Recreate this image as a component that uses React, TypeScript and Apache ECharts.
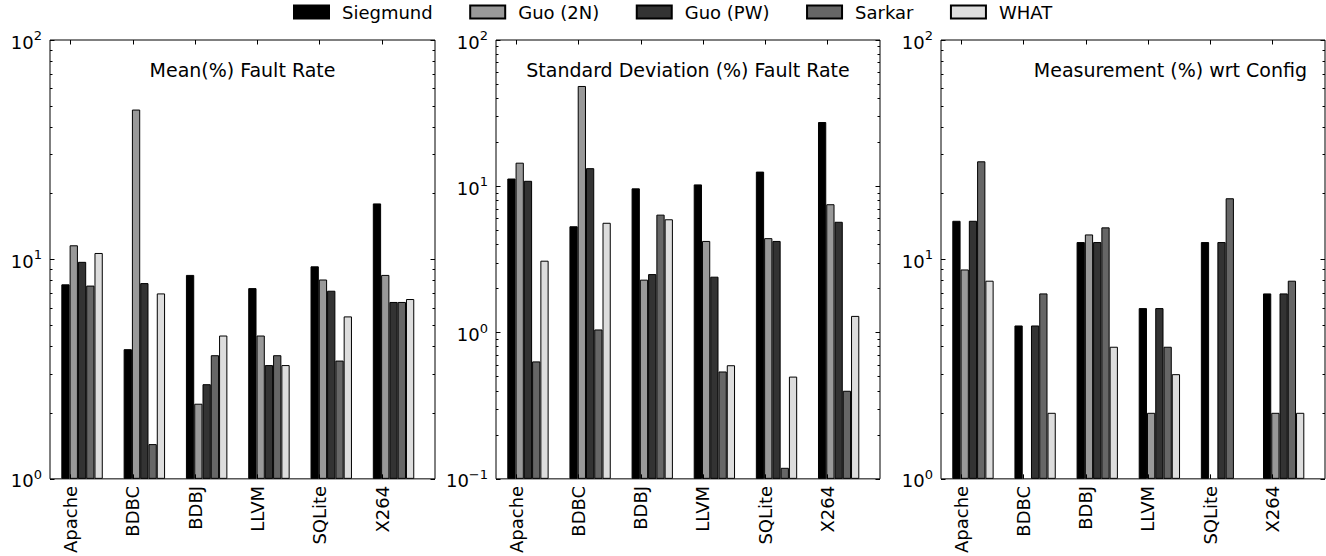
import React, { useEffect, useRef } from 'react';
import * as echarts from 'echarts';

const categories = ['Apache', 'BDBC', 'BDBJ', 'LLVM', 'SQLite', 'X264'];
const seriesNames = ['Siegmund', 'Guo (2N)', 'Guo (PW)', 'Sarkar', 'WHAT'];
const seriesColors = ['#000000', '#999999', '#333333', '#666666', '#dddddd'];

// Panel 1: Mean(%) Fault Rate
const meanSiegmund = [7.7, 3.9, 8.5, 7.4, 9.3, 18.0];
const meanGuo2N = [11.6, 48.2, 2.2, 4.5, 8.1, 8.5];
const meanGuoPW = [9.75, 7.8, 2.7, 3.3, 7.2, 6.4];
const meanSarkar = [7.6, 1.44, 3.66, 3.66, 3.46, 6.4];
const meanWHAT = [10.7, 7.0, 4.5, 3.3, 5.5, 6.6];

// Panel 2: Standard Deviation (%) Fault Rate
const sdSiegmund = [11.3, 5.33, 9.68, 10.3, 12.6, 27.5];
const sdGuo2N = [14.5, 48.5, 2.3, 4.23, 4.42, 7.54];
const sdGuoPW = [10.9, 13.3, 2.51, 2.41, 4.23, 5.72];
const sdSarkar = [0.635, 1.05, 6.4, 0.542, 0.119, 0.4];
const sdWHAT = [3.1, 5.63, 5.95, 0.598, 0.5, 1.3];

// Panel 3: Measurement (%) wrt Config
const measSiegmund = [15, 5, 12, 6, 12, 7];
const measGuo2N = [9, null, 13, 2, null, 2];
const measGuoPW = [15, 5, 12, 6, 12, 7];
const measSarkar = [28, 7, 14, 4, 19, 8];
const measWHAT = [8, 2, 4, 3, null, 2];

const panelTitles = ['Mean(%) Fault Rate', 'Standard Deviation (%) Fault Rate', 'Measurement (%) wrt Config'];
const panelMins = [1, 0.1, 1];
const panelMax = 100;
const panelData = [
  [meanSiegmund, meanGuo2N, meanGuoPW, meanSarkar, meanWHAT],
  [sdSiegmund, sdGuo2N, sdGuoPW, sdSarkar, sdWHAT],
  [measSiegmund, measGuo2N, measGuoPW, measSarkar, measWHAT],
];

const FONT = 'DejaVu Sans';

export default function App() {
  const ref = useRef<HTMLDivElement>(null);

  useEffect(() => {
    if (!ref.current) return;
    const chart = echarts.init(ref.current, undefined, { renderer: 'svg' });

    const grids = [
      { left: 50, top: 40, width: 385, height: 444 },
      { left: 496, top: 40, width: 384, height: 444 },
      { left: 941, top: 40, width: 384, height: 444 },
    ];
    const xMin = -0.33;
    const xMax = 5.85;
    const barUnit = 0.133;
    const barShift = -0.015;

    const xAxes: any[] = [];
    const yAxes: any[] = [];
    const series: any[] = [];
    const titles: any[] = [];

    grids.forEach((g, p) => {
      const min = panelMins[p];
      const majors: number[] = [];
      const minors: number[] = [];
      for (let d = min; d < panelMax - 1e-9; d *= 10) {
        majors.push(+d.toPrecision(6));
        for (let m = 2; m <= 9; m++) minors.push(+(d * m).toPrecision(6));
      }
      majors.push(panelMax);

      const tickVals = categories.map((_, k) => k);
      xAxes.push({
        type: 'value', gridIndex: p, position: 'bottom', min: xMin, max: xMax, z: 10,
        axisLine: { show: false, onZero: false },
        splitLine: { show: false },
        axisTick: { show: true, inside: true, length: 4.5, customValues: tickVals, lineStyle: { color: '#000', width: 1 } },
        axisLabel: {
          show: true, customValues: tickVals, rotate: 90, margin: 7,
          formatter: (v: number) => categories[Math.round(v)] ?? '',
          fontFamily: FONT, fontSize: 18, color: '#000',
        },
      });
      xAxes.push({
        type: 'value', gridIndex: p, position: 'top', min: xMin, max: xMax, z: 10,
        axisLine: { show: false, onZero: false },
        splitLine: { show: false },
        axisTick: { show: true, inside: true, length: 4.5, customValues: tickVals, lineStyle: { color: '#000', width: 1 } },
        axisLabel: { show: false },
      });

      const mkY = (pos: string, major: boolean, labels: boolean) => ({
        type: 'log', logBase: 10, gridIndex: p, position: pos, min, max: panelMax, startValue: min, z: 10,
        axisLine: { show: false, onZero: false },
        splitLine: { show: false },
        minorTick: { show: false },
        axisTick: {
          show: true, inside: true, length: major ? 4.5 : 2.5,
          customValues: major ? majors : minors,
          lineStyle: { color: '#000', width: 1 },
        },
        axisLabel: labels
          ? {
              show: true, customValues: majors, margin: 8,
              formatter: (v: number) => {
                const e = Math.round(Math.log10(v));
                return '{b|10}{s|' + (e < 0 ? '\u2212' + -e : String(e)) + '}';
              },
              rich: {
                b: { fontFamily: FONT, fontSize: 18, color: '#000', lineHeight: 22, verticalAlign: 'bottom' },
                s: { fontFamily: FONT, fontSize: 13, color: '#000', lineHeight: 14, verticalAlign: 'top' },
              },
            }
          : { show: false },
      });
      yAxes.push(mkY('left', true, true));
      yAxes.push(mkY('left', false, false));
      yAxes.push(mkY('right', true, false));
      yAxes.push(mkY('right', false, false));

      const pxPerUnit = g.width / (xMax - xMin);
      const bw = barUnit * pxPerUnit;

      seriesNames.forEach((name, i) => {
        const vals = panelData[p][i];
        const data: any[] = [];
        vals.forEach((v, k) => {
          if (v != null) data.push([k + (i - 0.5) * barUnit + barShift, v]);
        });
        series.push({
          type: 'bar', name, xAxisIndex: 2 * p, yAxisIndex: 4 * p,
          barWidth: bw, barGap: '-100%', silent: true,
          itemStyle: { color: seriesColors[i], borderColor: '#000', borderWidth: 1 },
          data,
        });
      });

      const base = { text: panelTitles[p], top: 60, padding: 0, textStyle: { fontFamily: FONT, fontSize: 19, fontWeight: 'normal', color: '#000' } };
      if (p === 2) titles.push({ ...base, left: 1307, textAlign: 'right' });
      else titles.push({ ...base, left: g.left + g.width / 2, textAlign: 'center' });
    });

    chart.setOption({
      animation: false,
      backgroundColor: '#fff',
      title: titles,
      legend: {
        data: seriesNames, top: 3, left: 293, padding: 0, icon: 'rect',
        itemWidth: 35, itemHeight: 13, itemGap: 36.5,
        textStyle: { fontFamily: FONT, fontSize: 18, color: '#000', padding: [0, 0, 0, 8] },
        selectedMode: false,
      },
      grid: grids.map((g) => ({ ...g, show: true, borderColor: '#000', borderWidth: 1, backgroundColor: 'transparent' })),
      xAxis: xAxes,
      yAxis: yAxes,
      series,
    });

    return () => chart.dispose();
  }, []);

  return <div ref={ref} style={{ position: 'fixed', left: 0, top: 0, width: 1326, height: 556 }} />;
}
